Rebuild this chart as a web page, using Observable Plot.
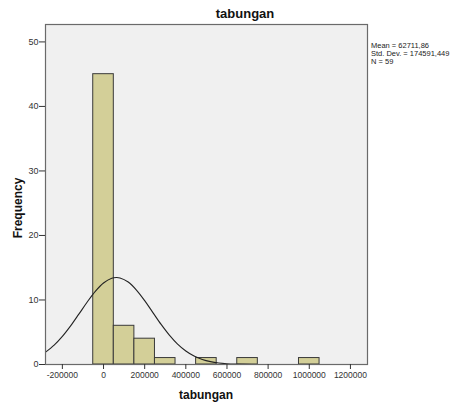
<!DOCTYPE html>
<html>
<head>
<meta charset="utf-8">
<script src="https://cdn.jsdelivr.net/npm/d3@7"></script>
<script src="https://cdn.jsdelivr.net/npm/@observablehq/plot@0.6"></script>
<style>
  body { margin: 0; background: #fff; }
  svg { font-family: Arial, "Liberation Sans", sans-serif; }
</style>
</head>
<body>
<div id="chart"></div>
<script>
// Histogram bins (centres) and counts
const binCenters = [0, 100000, 200000, 300000, 500000, 700000, 1000000];
const counts = [45, 6, 4, 1, 1, 1, 1];
const binWidth = 100000;

// Normal curve (x, frequency)
const curveX = [-280000, -240000, -200000, -160000, -120000, -80000, -40000, 0, 40000, 62712, 80000, 120000, 160000, 200000, 240000, 280000, 320000, 360000, 400000, 440000, 480000, 520000, 560000, 600000, 640000, 680000, 720000, 760000];
const curveY = [1.96, 3.00, 4.35, 5.98, 7.80, 9.65, 11.34, 12.64, 13.37, 13.48, 13.42, 12.78, 11.54, 9.90, 8.05, 6.21, 4.55, 3.16, 2.09, 1.31, 0.78, 0.44, 0.23, 0.12, 0.06, 0.03, 0.01, 0.005];

const xTicks = [-200000, 0, 200000, 400000, 600000, 800000, 1000000, 1200000];
const yTicks = [0, 10, 20, 30, 40, 50];
const statsLines = ["Mean = 62711,86", "Std. Dev. = 174591,449", "N = 59"];
const title = "tabungan";
const xLabel = "tabungan";
const yLabel = "Frequency";

const bars = binCenters.map((c, i) => ({x1: c - binWidth / 2, x2: c + binWidth / 2, y: counts[i]}));
const curve = curveX.map((x, i) => ({x, y: curveY[i]}));

const W = 464, H = 402;
const mL = 45, mR = 97, mT = 24, mB = 38;

const plot = Plot.plot({
  width: W,
  height: H,
  marginLeft: mL,
  marginRight: mR,
  marginTop: mT,
  marginBottom: mB,
  style: {fontFamily: "Arial, 'Liberation Sans', sans-serif", fontSize: "9px", color: "#333"},
  x: {domain: [-282000, 1283000], ticks: xTicks, tickFormat: d => String(d), label: null, tickSize: 5},
  y: {domain: [0, 52.7], ticks: yTicks, label: null, tickSize: 6},
  marks: [
    Plot.frame({fill: "#f0f0f0"}),
    Plot.rectY(bars, {x1: "x1", x2: "x2", y: "y", fill: "#d3cf98", stroke: "#3a3a3a", strokeWidth: 1}),
    Plot.line(curve, {x: "x", y: "y", stroke: "#222", strokeWidth: 1.1, curve: "catmull-rom", clip: true}),
    Plot.frame({stroke: "#6a6a6a", strokeWidth: 1.2}),
    Plot.axisX({ticks: xTicks, tickFormat: d => String(d), tickSize: 5, tickPadding: 2, fill: "#333", stroke: "#333", fontSize: 8.5}),
    Plot.axisY({ticks: yTicks, tickSize: 6, tickPadding: 1, fill: "#333", stroke: "#333", fontSize: 9, label: null})
  ]
});

const svg = d3.select(plot);
svg.append("text")
  .attr("x", 245).attr("y", 18)
  .attr("text-anchor", "middle")
  .attr("font-size", 13).attr("font-weight", "bold").attr("fill", "#111")
  .text(title);
svg.append("text")
  .attr("x", (mL + W - mR) / 2).attr("y", 399)
  .attr("text-anchor", "middle")
  .attr("font-size", 12).attr("font-weight", "bold").attr("fill", "#111")
  .text(xLabel);
svg.append("text")
  .attr("transform", "translate(22,208) rotate(-90)")
  .attr("text-anchor", "middle")
  .attr("font-size", 12).attr("font-weight", "bold").attr("fill", "#111")
  .text(yLabel);
const st = svg.append("text").attr("font-size", 7.5).attr("fill", "#222").attr("text-anchor", "start");
statsLines.forEach((s, i) => {
  st.append("tspan").attr("x", 371).attr("y", 48 + i * 8).text(s);
});

document.getElementById("chart").appendChild(plot);
</script>
</body>
</html>
